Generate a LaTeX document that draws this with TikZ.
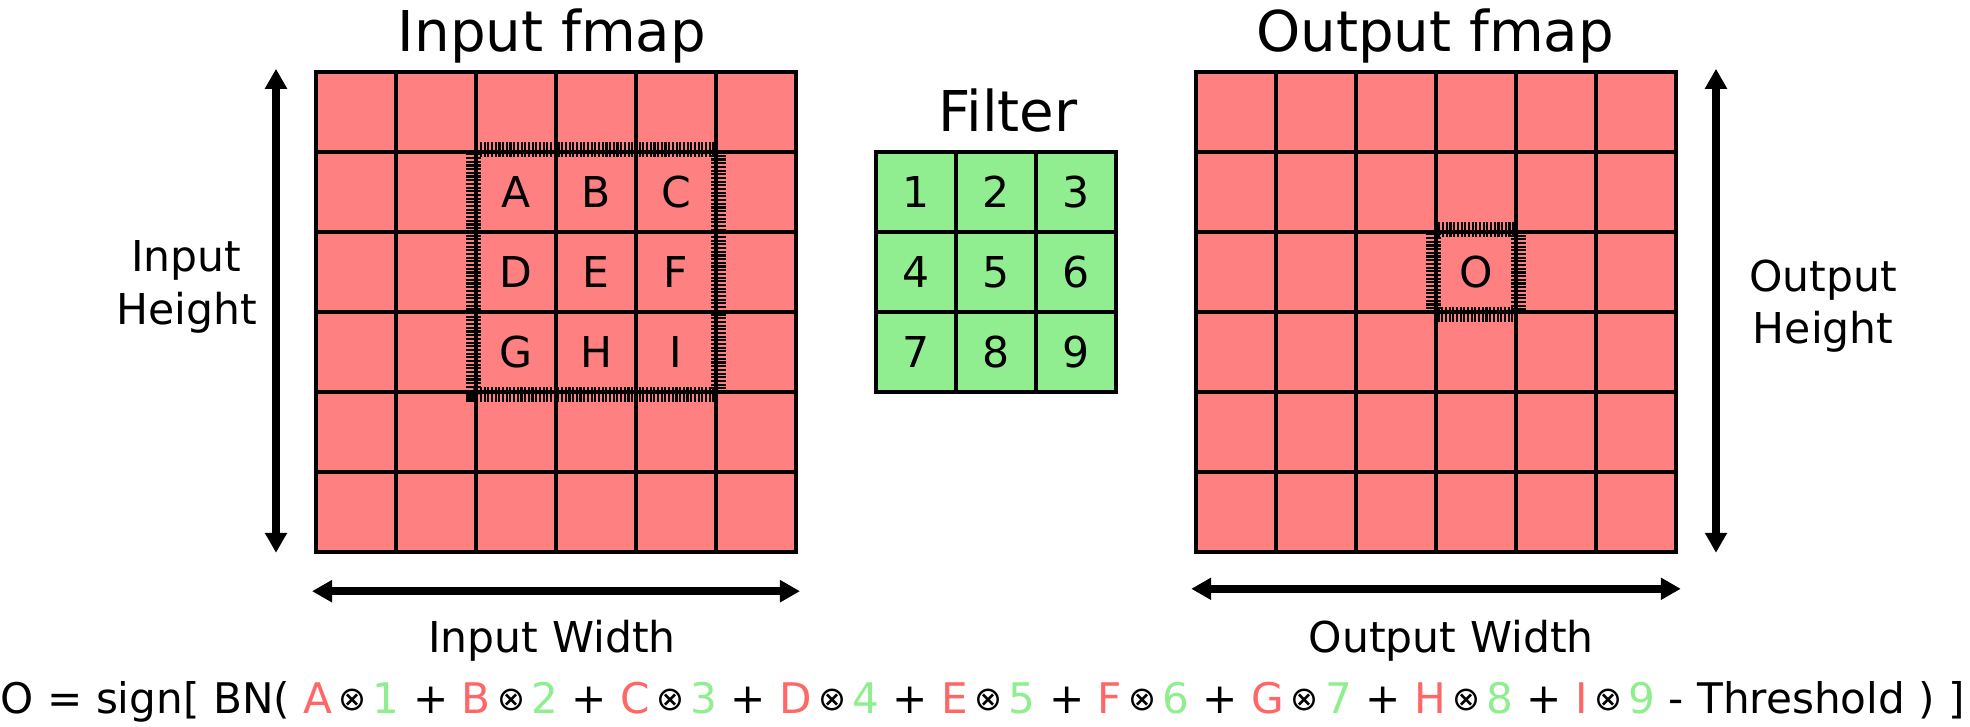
\documentclass[tikz,border=0pt]{standalone}
\usepackage{fontspec}
\setmainfont{DejaVu Sans}
\usepackage{xcolor}
\usetikzlibrary{arrows.meta,positioning,calc}
\definecolor{cellred}{HTML}{FF8080}
\definecolor{filtgreen}{HTML}{90EE90}
\definecolor{txtred}{HTML}{FF6666}
\definecolor{txtgreen}{HTML}{90EE90}
\newcommand{\prodterm}[2]{\textcolor{txtred}{#1}\hspace{1.8pt}%
  \raisebox{0.6pt}{\fontsize{9.5}{10}\selectfont ⊗}\hspace{1.8pt}\textcolor{txtgreen}{#2}}

\begin{document}
\begin{tikzpicture}[x=0.8cm,y=0.8cm,
  font=\fontsize{12.1}{14.8}\selectfont,
  incell/.style={draw=black,line width=1.35pt,fill=cellred,
    minimum size=0.8cm,inner sep=0pt},
  fcell/.style={incell,fill=filtgreen},
  window/.style={draw=black,line width=4.27pt,dash pattern=on 0.6pt off 0.45pt},
  dimarrow/.style={{Triangle[length=5.7pt,width=6pt]}-{Triangle[length=5.7pt,width=6pt]},
    line width=2.28pt},
  heading/.style={font=\fontsize{16}{19}\selectfont,anchor=base,inner sep=0pt},
  dimlabel/.style={align=center,anchor=base,inner sep=0pt}]
\useasboundingbox (0,0) rectangle (24.625,-9.0875);

% input feature map
\foreach \i in {0,...,5}
  \foreach \j in {0,...,5}
    \node[incell] (in-\i-\j) at (4.45+\i,-1.4-\j) {};
\foreach \lab [count=\k from 0] in {A,B,C,D,E,F,G,H,I}
  \pgfmathtruncatemacro{\ci}{2+mod(\k,3)}
  \pgfmathtruncatemacro{\cj}{1+div(\k,3)}
  \node at (in-\ci-\cj) {\lab};
\draw[window] (in-2-1.north west) rectangle (in-4-3.south east);

% filter
\foreach \i in {0,...,2}
  \foreach \j in {0,...,2}
    \pgfmathtruncatemacro{\num}{1+\i+3*\j}
    \node[fcell] (f-\i-\j) at (11.45+\i,-2.4-\j) {\num};

% output feature map
\foreach \i in {0,...,5}
  \foreach \j in {0,...,5}
    \node[incell] (out-\i-\j) at (15.45+\i,-1.4-\j) {};
\node at (out-3-2) {O};
\draw[window] (out-3-2.north west) rectangle (out-3-2.south east);

% titles
\node[heading] (in_title) at (6.9,-0.64) {Input fmap};
\node[heading] (f_title) at (12.6,-1.646) {Filter};
\node[heading] (out_title) at (17.94,-0.64) {Output fmap};

% dimension arrows
\coordinate (inH_top) at (3.45,-0.86);
\coordinate (inH_bot) at (3.45,-6.91);
\coordinate (inW_left) at (3.9,-7.39);
\coordinate (inW_right) at (10.0,-7.39);
\coordinate (outH_top) at (21.45,-0.86);
\coordinate (outH_bot) at (21.45,-6.91);
\coordinate (outW_left) at (14.89,-7.36);
\coordinate (outW_right) at (21.01,-7.36);
\draw[dimarrow] (inH_bot)--(inH_top);
\draw[dimarrow] (inW_left)--(inW_right);
\draw[dimarrow] (outH_bot)--(outH_top);
\draw[dimarrow] (outW_left)--(outW_right);

\node[dimlabel] (inH_lab) at (2.33,-4.05) {Input\\Height};
\node[dimlabel] (outH_lab) at (22.79,-4.29) {Output\\Height};
\node[dimlabel] (inW_lab) at (6.9,-8.15) {Input Width};
\node[dimlabel] (outW_lab) at (18.14,-8.15) {Output Width};

% formula
\node[anchor=base west,inner sep=0pt,font=\fontsize{12}{14}\selectfont] (formula) at (0,-8.9125)
  {O = sign[ BN( \prodterm{A}{1} + \prodterm{B}{2} + \prodterm{C}{3} + \prodterm{D}{4} + \prodterm{E}{5} + \prodterm{F}{6} + \prodterm{G}{7} + \prodterm{H}{8} + \prodterm{I}{9} - Threshold ) ]};
\end{tikzpicture}
\end{document}
